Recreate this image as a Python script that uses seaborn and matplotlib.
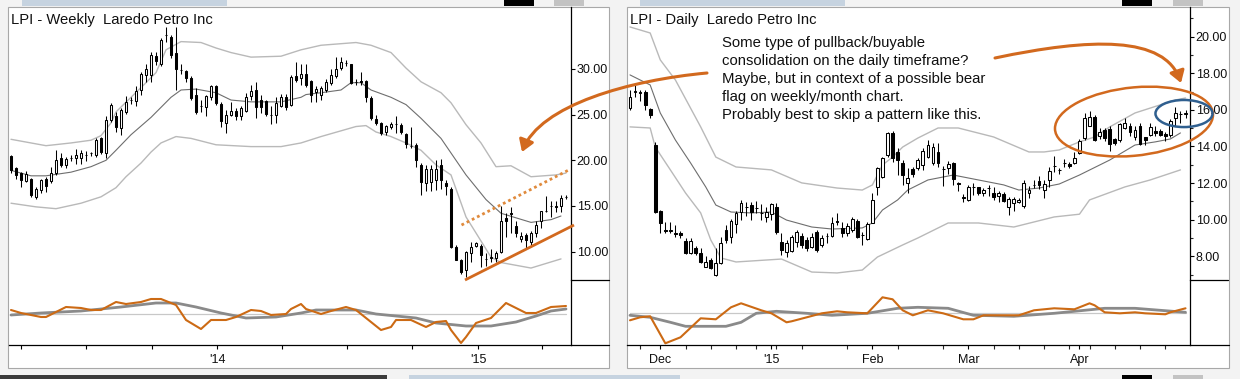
import numpy as np
import pandas as pd
import matplotlib
matplotlib.use("Agg")
import matplotlib.pyplot as plt
from matplotlib.patches import Ellipse, FancyArrowPatch, Rectangle
from matplotlib.path import Path
import matplotlib.ticker as mticker
import seaborn as sns

sns.set_theme(style="white")
plt.rcParams['font.family'] = ['Liberation Sans', 'DejaVu Sans']

# ---------------- weekly data (week starting 2013-03-18) ----------------
wk_start = "2013-03-18"
wk_open = [20.47, 19.2, 18.6, 17.7, 18.0, 16.0, 16.75, 17.9, 17.7, 18.6,
           20.3, 19.5, 20.25, 20.2, 20.2, 20.55, 20.75, 20.6, 22.4, 20.8,
           24.4, 24.8, 23.5, 25.3, 26.55, 26.5, 27.7, 29.35, 29.3, 31.4,
           30.6, 33.7, 33.5, 31.7, 29.9, 29.8, 29.0, 27.15, 26.0, 25.8,
           26.9, 28.1, 26.2, 24.05, 24.95, 25.45, 24.8, 25.4, 27.0, 27.7,
           26.6, 26.5, 24.95, 24.95, 25.95, 26.95, 26.05, 29.2, 29.05, 29.5,
           28.7, 27.5, 27.15, 27.7, 28.5, 29.25, 30.1, 30.7, 30.55, 28.62,
           28.65, 28.7, 26.8, 24.5, 24.1, 23.05, 23.6, 24.0, 23.85, 22.9,
           21.6, 21.7, 19.5, 17.5, 17.65, 17.85, 19.5, 17.5, 16.9, 10.55,
           9.1, 8.0, 9.9, 10.6, 10.6, 9.15, 9.35, 9.3, 10.0, 13.65,
           14.2, 12.8, 11.35, 11.8, 11.1, 12.0, 13.3, 14.5, 15.0, 14.9,
           14.95, 15.95]
wk_high = [20.6, 19.3, 18.75, 18.8, 18.1, 17.1, 18.0, 18.2, 19.3, 21.1,
           20.8, 20.4, 20.6, 21.2, 21.1, 21.0, 20.95, 22.4, 22.5, 24.8,
           26.3, 25.3, 25.7, 27.0, 26.9, 28.1, 29.7, 30.6, 31.9, 31.9,
           33.4, 34.6, 33.7, 34.6, 30.5, 29.9, 29.2, 27.9, 26.6, 27.15,
           28.2, 28.2, 26.4, 25.5, 26.4, 25.7, 25.9, 27.4, 28.2, 28.6,
           27.1, 26.6, 25.9, 26.9, 27.3, 27.3, 29.3, 30.8, 30.6, 30.6,
           28.8, 28.1, 28.1, 28.9, 30.0, 31.3, 31.3, 31.0, 30.6, 28.9,
           29.7, 28.8, 27.0, 25.0, 24.2, 23.9, 24.2, 24.9, 24.1, 23.0,
           23.6, 21.9, 19.7, 19.5, 19.5, 20.0, 20.1, 17.85, 17.1, 10.7,
           9.15, 10.1, 11.1, 11.1, 10.8, 9.9, 10.3, 10.1, 15.0, 14.2,
           14.9, 13.3, 12.2, 12.0, 12.3, 13.3, 14.5, 16.1, 15.5, 15.5,
           16.2, 16.2]
wk_low = [18.6, 18.0, 17.1, 17.6, 16.0, 15.8, 16.4, 16.5, 17.5, 18.4,
          19.3, 19.2, 19.9, 19.6, 19.6, 19.9, 20.5, 20.4, 20.7, 20.2,
          24.2, 23.1, 22.8, 25.1, 26.2, 25.9, 27.2, 28.6, 28.6, 30.4,
          30.3, 33.0, 31.2, 27.7, 29.5, 28.6, 26.6, 25.1, 25.3, 24.8,
          26.6, 26.1, 23.7, 23.0, 24.8, 24.4, 24.4, 25.3, 26.6, 24.6,
          25.2, 24.8, 24.0, 24.1, 25.8, 25.5, 25.9, 28.6, 28.3, 28.0,
          26.4, 26.4, 26.6, 27.5, 28.3, 29.0, 29.9, 30.3, 28.4, 28.2,
          28.2, 26.4, 24.4, 23.9, 22.8, 22.8, 23.4, 23.0, 22.9, 21.4,
          21.3, 19.3, 16.2, 16.6, 16.6, 16.75, 16.9, 16.2, 10.35, 9.05,
          7.6, 7.2, 8.9, 10.5, 8.35, 8.45, 8.9, 8.85, 9.9, 11.6,
          12.0, 11.6, 11.0, 10.4, 10.7, 11.6, 12.6, 14.3, 13.8, 14.3,
          14.3, 15.8]
wk_close = [18.94, 18.4, 17.85, 18.45, 16.2, 16.9, 17.8, 17.2, 18.6, 20.0,
            19.5, 20.1, 20.3, 20.55, 20.8, 20.6, 20.8, 22.2, 20.95, 24.4,
            26.1, 23.7, 25.5, 26.4, 26.6, 27.6, 29.5, 29.95, 31.5, 30.9,
            33.2, 33.75, 31.5, 30.0, 29.85, 29.0, 26.8, 25.3, 25.95, 27.0,
            28.1, 26.25, 24.25, 25.0, 25.45, 24.85, 25.7, 26.9, 27.6, 25.8,
            25.8, 25.1, 25.0, 26.25, 26.95, 25.8, 29.15, 28.8, 29.5, 28.25,
            27.15, 27.8, 27.9, 28.6, 29.3, 30.05, 30.8, 30.65, 28.45, 28.58,
            28.6, 26.9, 24.6, 24.05, 22.95, 23.75, 23.95, 23.95, 23.05, 21.8,
            21.55, 20.0, 17.65, 19.1, 19.1, 19.1, 17.85, 17.2, 10.55, 9.1,
            7.8, 10.0, 10.45, 10.95, 9.65, 9.2, 9.4, 9.9, 13.4, 13.4,
            14.15, 12.05, 11.7, 11.3, 12.05, 12.9, 14.45, 14.45, 14.95, 14.95,
            15.85, 16.0]

# weekly envelope (week index, price)
wk_upper_x = [0, 4, 7, 12, 16, 18, 20, 21, 24, 27, 29, 31, 34, 38, 41, 44, 48,
              54, 58, 62, 69, 72, 76, 79, 82, 86, 88, 91, 94, 97, 100, 104, 109, 111]
wk_upper_y = [22.3, 21.9, 21.6, 21.9, 22.2, 22.7, 24.1, 25.3, 26.9, 28.5, 29.6,
              32.1, 33.0, 32.9, 32.3, 31.8, 31.3, 31.4, 32.1, 32.6, 32.9, 32.6,
              31.8, 30.1, 28.6, 27.4, 26.3, 23.9, 21.9, 19.3, 19.4, 18.2, 18.4, 18.6]
wk_mid_x = [0, 4, 7, 12, 16, 19, 21, 24, 28, 32, 34, 37, 41, 44, 48, 54, 58,
            59, 62, 66, 68, 70, 72, 76, 79, 82, 86, 91, 95, 98, 101, 104, 108, 110]
wk_mid_y = [18.9, 18.3, 18.3, 18.7, 19.3, 20.0, 21.1, 22.8, 24.7, 26.9, 27.7,
            27.8, 27.4, 26.6, 26.4, 26.4, 26.9, 27.2, 27.4, 27.7, 28.5, 28.5,
            27.7, 26.9, 26.1, 24.6, 22.4, 18.4, 15.7, 14.2, 13.7, 13.2, 13.5, 13.9]
wk_lower_x = [0, 5, 9, 14, 18, 21, 23, 26, 28, 30, 33, 36, 41, 48, 54, 58, 62,
              69, 71, 73, 76, 79, 82, 85, 88, 91, 96, 98, 101, 104, 110]
wk_lower_y = [15.3, 14.9, 14.7, 15.3, 16.0, 17.0, 18.2, 19.7, 20.9, 21.9, 22.6,
              22.4, 21.7, 21.5, 21.5, 21.9, 22.6, 23.7, 23.8, 23.1, 22.6, 21.9,
              21.1, 19.5, 18.4, 13.8, 9.4, 8.8, 8.5, 8.2, 9.2]

# weekly oscillator
wk_osc_x = [0, 2, 6, 7, 11, 14, 16, 18, 21, 23, 26, 28, 30, 33, 35, 38, 40, 43,
            45, 48, 50, 52, 55, 56, 58, 59, 62, 64, 67, 69, 72, 74, 76, 77, 80,
            83, 85, 87, 88, 90, 91, 93, 96, 99, 103, 105, 108, 111]
wk_osc_y = [0.4, 0.1, -0.3, -0.3, 0.7, 0.6, 0.4, 0.4, 1.2, 1.0, 1.2, 1.5, 1.5,
            0.9, -0.6, -1.5, -0.6, -0.6, -0.3, 0.4, 0.3, -0.1, 0.0, 0.5, 1.0,
            0.5, 0.0, 0.3, 0.7, 0.4, -0.8, -1.6, -1.3, -0.6, -0.6, -1.3, -0.8,
            -0.7, -1.6, -2.9, -2.3, -0.9, -0.4, 1.1, 0.1, 0.1, 0.7, 0.8]
wk_sig_x = [0, 6, 14, 22, 29, 33, 37, 42, 47, 53, 58, 61, 69, 73, 81, 85, 91,
            96, 101, 105, 108, 111]
wk_sig_y = [-0.1, 0.1, 0.3, 0.7, 1.1, 1.1, 0.7, 0.1, -0.4, -0.3, 0.1, 0.4, 0.4,
            0.0, -0.4, -0.9, -1.2, -1.2, -0.8, -0.2, 0.3, 0.5]

# weekly trend lines drawn on the chart
wk_support_x, wk_support_y = [90.8, 112.6], [6.89, 12.91]
wk_resist_x, wk_resist_y = [90.1, 111.8], [12.91, 19.01]

# ---------------- daily data (2014-11-20 .. 2015-05-01) ----------------
d_open = [16.1, 17.0, 16.95, 17.0, 16.03, 14.08, 10.49, 9.45, 9.4, 9.25,
          9.25, 8.84, 8.2, 8.44, 8.2, 7.43, 7.8, 6.98, 7.62, 9.44,
          9.07, 9.77, 10.44, 10.7, 10.8, 10.66, 10.36, 10.17, 10.31, 10.71,
          8.8, 8.25, 8.31, 8.8, 9.11, 8.89, 8.52, 9.34, 8.6, 9.12,
          9.11, 9.9, 9.53, 9.26, 9.44, 9.95, 9.17, 8.93, 9.84, 11.8,
          12.35, 13.54, 14.72, 13.72, 13.1, 11.99, 12.75, 12.81, 12.99, 13.41,
          13.08, 13.68, 12.78, 12.81, 13.11, 12.02, 11.23, 11.08, 11.79, 11.77,
          11.44, 11.73, 11.47, 11.3, 11.4, 10.71, 10.9, 10.98, 10.75, 11.44,
          11.89, 12.1, 11.62, 12.17, 12.95, 12.73, 13.07, 13.04, 13.11, 13.66,
          14.45, 15.12, 15.63, 14.57, 14.9, 14.94, 14.39, 14.36, 14.99, 15.12,
          14.5, 15.12, 14.5, 14.63, 14.86, 14.86, 14.68, 14.63, 15.54, 15.77,
          15.8]
d_high = [17.1, 17.36, 17.1, 17.1, 16.1, 14.26, 10.55, 9.9, 9.9, 9.7,
          9.4, 9.0, 9.0, 8.55, 8.44, 8.0, 7.9, 8.45, 9.07, 9.7,
          10.05, 10.5, 11.07, 10.98, 10.98, 11.0, 10.85, 10.72, 10.93, 10.9,
          9.26, 8.89, 9.16, 9.44, 9.26, 9.07, 9.26, 9.44, 9.16, 9.26,
          10.16, 10.34, 9.89, 9.84, 10.16, 10.02, 9.35, 9.89, 11.44, 12.9,
          13.44, 14.81, 14.86, 13.9, 13.26, 12.8, 12.9, 13.35, 13.9, 14.35,
          14.17, 14.17, 12.94, 13.22, 13.17, 12.08, 11.4, 11.9, 11.99, 11.8,
          11.72, 11.9, 11.8, 11.58, 11.53, 11.26, 11.22, 11.17, 12.17, 11.84,
          12.17, 12.4, 12.17, 12.9, 13.48, 12.85, 13.3, 13.17, 13.71, 14.4,
          15.81, 15.96, 15.72, 14.99, 14.99, 15.1, 14.45, 15.3, 15.54, 15.26,
          15.1, 15.26, 14.5, 15.3, 15.12, 14.94, 14.79, 15.5, 16.17, 15.96,
          16.0]
d_low = [16.0, 16.7, 16.5, 16.0, 15.55, 10.35, 9.29, 9.3, 9.3, 9.05,
         9.0, 8.15, 8.1, 8.05, 7.65, 7.4, 7.3, 6.92, 7.58, 8.7,
         8.7, 9.3, 10.0, 10.18, 10.0, 10.35, 9.99, 9.9, 10.0, 9.2,
         8.07, 7.98, 8.22, 8.53, 8.44, 8.31, 8.44, 8.25, 8.53, 8.71,
         9.07, 9.7, 9.04, 9.11, 9.35, 8.98, 8.6, 8.89, 9.8, 11.35,
         12.26, 13.4, 13.17, 12.44, 11.9, 11.44, 12.35, 12.72, 12.72, 13.35,
         12.99, 12.9, 11.84, 12.5, 11.9, 11.57, 10.98, 11.02, 11.33, 11.35,
         11.3, 11.3, 11.1, 10.94, 10.94, 10.26, 10.5, 10.9, 10.66, 11.17,
         11.72, 11.7, 11.2, 11.8, 12.6, 12.5, 12.9, 12.85, 13.04, 13.6,
         14.36, 15.1, 14.3, 14.4, 14.3, 13.78, 14.1, 14.26, 14.94, 14.56,
         14.36, 14.08, 14.1, 14.58, 14.56, 14.56, 14.3, 14.5, 15.1, 15.3,
         15.55]
d_close = [16.7, 17.05, 16.9, 16.27, 15.72, 10.44, 9.84, 9.4, 9.44, 9.22,
           9.15, 8.2, 8.84, 8.16, 7.7, 7.67, 7.34, 7.65, 8.71, 8.89,
           9.95, 10.38, 10.93, 10.72, 10.44, 10.64, 10.34, 10.44, 10.86, 9.34,
           8.34, 8.71, 9.04, 9.31, 8.62, 8.44, 9.07, 8.34, 9.0, 9.1,
           9.8, 9.89, 9.26, 9.66, 10.02, 9.04, 9.15, 9.77, 11.08, 12.8,
           13.35, 14.72, 13.35, 13.26, 12.44, 12.26, 12.5, 13.26, 13.77, 14.08,
           13.96, 13.08, 12.76, 13.04, 12.21, 11.93, 11.21, 11.8, 11.81, 11.44,
           11.62, 11.71, 11.22, 11.47, 11.04, 11.11, 11.11, 11.1, 11.99, 11.62,
           11.91, 11.9, 11.93, 12.68, 12.93, 12.72, 13.08, 12.93, 13.35, 14.32,
           15.54, 15.6, 14.36, 14.81, 14.45, 14.14, 14.2, 15.23, 15.3, 14.81,
           14.9, 14.14, 14.36, 15.05, 14.72, 14.63, 14.57, 15.41, 15.81, 15.79,
           15.82]
d_holidays = ["2014-11-27", "2014-12-25", "2015-01-01", "2015-01-19",
              "2015-02-16", "2015-04-03"]

d_upper_x = [0, 4, 6, 9, 14, 17, 21, 28, 34, 41, 46, 48, 50, 52, 54, 57, 61,
             65, 72, 79, 82, 85, 89, 92, 95, 100, 108, 110]
d_upper_y = [20.53, 20.2, 18.73, 17.63, 15.07, 13.42, 12.88, 12.72, 12.01,
             11.73, 11.62, 11.9, 12.99, 13.42, 13.97, 14.46, 15.01, 15.01,
             14.52, 13.7, 13.7, 13.81, 14.25, 14.52, 15.07, 15.83, 16.54, 16.65]
d_mid_x = [0, 4, 6, 9, 12, 15, 17, 20, 24, 28, 31, 36, 40, 46, 48, 50, 53, 55,
           59, 64, 69, 74, 77, 81, 85, 89, 95, 100, 104, 107, 109]
d_mid_y = [17.91, 17.36, 15.83, 14.35, 13.1, 11.79, 10.8, 10.42, 10.37, 10.42,
           9.98, 9.6, 9.49, 9.55, 9.82, 10.53, 11.08, 11.62, 12.17, 12.44,
           12.17, 11.9, 11.62, 11.73, 11.95, 12.44, 13.26, 14.08, 14.25, 14.41, 14.74]
d_lower_x = [0, 4, 5, 8, 11, 14, 16, 18, 21, 30, 36, 41, 46, 49, 54, 57, 63,
             69, 76, 84, 89, 91, 98, 103, 109]
d_lower_y = [15.07, 15.01, 13.97, 12.72, 11.46, 10.37, 8.89, 7.91, 7.69, 7.85,
             7.14, 7.09, 7.25, 7.96, 8.62, 9.0, 9.82, 9.82, 9.6, 10.15, 10.3,
             11.08, 11.79, 12.17, 12.72]

d_osc_x = [0, 2, 4, 7, 10, 14, 17, 20, 22, 26, 28, 31, 32, 35, 38, 41, 43, 47,
           50, 52, 54, 56, 59, 62, 66, 68, 70, 77, 80, 84, 88, 91, 92, 94, 97,
           100, 102, 106, 107, 110]
d_osc_y = [-0.7, -0.4, -0.3, -3.0, -2.4, -0.5, -0.6, 0.6, 1.0, 0.3, 0.0, -0.9,
           -0.8, -0.4, 0.0, 0.2, 0.1, 0.0, 1.6, 1.4, 0.3, -0.2, 0.3, 0.0, -0.6,
           -0.6, -0.2, -0.2, 0.3, 0.5, 0.4, 1.0, 0.8, 0.1, 0.0, 0.1, 0.0, -0.1,
           0.1, 0.5]
d_sig_x = [0, 4, 8, 11, 19, 22, 25, 29, 35, 40, 47, 53, 57, 63, 68, 76, 84, 90,
           94, 100, 105, 110]
d_sig_y = [-0.2, -0.4, -0.9, -1.3, -1.3, -0.9, 0.0, 0.2, 0.0, -0.2, 0.0, 0.5,
           0.6, 0.5, -0.2, -0.3, 0.0, 0.3, 0.5, 0.5, 0.3, 0.1]

note_lines = ["Some type of pullback/buyable",
              "consolidation on the daily timeframe?",
              "Maybe, but in context of a possible bear",
              "flag on weekly/month chart.",
              "Probably best to skip a pattern like this."]

# ---------------- styling ----------------
W, H = 1240, 379
ORANGE = "#d2691e"
ORANGE_L = "#e08a3c"
OSC_OR = "#cc6a14"
BLUE = "#2f5f8f"
UPPER_C = "#b9b9b9"
MID_C = "#6e6e6e"
TXT = "#101010"

fig = plt.figure(figsize=(W / 100, H / 100), dpi=100)
fig.patch.set_facecolor("white")


def fx(px):
    return px / W


def fy(py):
    return 1 - py / H


def add_rect(x0, y0, x1, y1, **kw):
    fig.add_artist(Rectangle((fx(x0), fy(y1)), fx(x1) - fx(x0), fy(y0) - fy(y1),
                             transform=fig.transFigure, **kw))


# window chrome
add_rect(0, 0, W, 379, facecolor="#f3f3f3", edgecolor="none", zorder=-5)
for (a, b) in [(8, 609), (627, 1229)]:
    add_rect(a, 6.5, b, 368, facecolor="white", edgecolor="#a8a8a8", lw=0.8, zorder=-4)
for (a, b, c) in [(22, 227, "#c6d3e0"), (504, 534, "#000000"), (554, 584, "#c3c3c3"),
                  (640, 845, "#c6d3e0"), (1122, 1152, "#000000"), (1173, 1203, "#c3c3c3")]:
    add_rect(a, 0, b, 6, facecolor=c, edgecolor="none", zorder=-3)
for (a, b, c) in [(0, 387, "#3c3c3c"), (409, 620, "#c6d3e0"), (620, 680, "#c6d3e0"),
                  (1122, 1152, "#000000"), (1173, 1203, "#c3c3c3")]:
    add_rect(a, 375, b, 379, facecolor=c, edgecolor="none", zorder=-3)


def draw_candles(ax, o, h, l, c, width):
    o, h, l, c = map(np.asarray, (o, h, l, c))
    x = np.arange(len(o))
    up = c >= o
    ax.vlines(x, l, h, color="black", lw=0.75, zorder=3)
    bottom = np.minimum(o, c)
    height = np.maximum(np.abs(c - o), 0.02)
    ax.bar(x, height, width=width, bottom=bottom,
           color=np.where(up, "white", "black"), edgecolor="black",
           linewidth=0.75, zorder=4)


def style_price_ax(ax):
    for s in ["top", "left", "bottom"]:
        ax.spines[s].set_visible(False)
    ax.spines["right"].set_color("black")
    ax.spines["right"].set_linewidth(0.9)
    ax.set_facecolor("none")
    ax.yaxis.tick_right()
    ax.tick_params(axis="y", which="major", direction="out", length=3.2, width=0.8,
                   pad=1.2, labelsize=9, colors="black", labelcolor=TXT, right=True)
    ax.tick_params(axis="y", which="minor", direction="out", length=2, width=0.8,
                   right=True)
    ax.tick_params(axis="x", bottom=False, labelbottom=False)
    ax.yaxis.set_major_formatter(mticker.FormatStrFormatter("%.2f"))
    ax.set_xlabel("")
    ax.set_ylabel("")
    ax.grid(False)
    ax.plot([1, 1.0 + 38.5 / ax.bbox.width], [0, 0], transform=ax.transAxes,
            color="black", lw=0.9, clip_on=False)


def style_osc_ax(ax, right_px):
    for s in ["top", "left"]:
        ax.spines[s].set_visible(False)
    for s in ["right", "bottom"]:
        ax.spines[s].set_color("black")
        ax.spines[s].set_linewidth(0.9)
    ax.set_facecolor("none")
    ax.set_yticks([])
    ax.tick_params(axis="x", which="major", direction="out", length=3, width=0.8,
                   pad=3.5, labelsize=9, colors="black", labelcolor=TXT, bottom=True)
    ax.tick_params(axis="x", which="minor", direction="out", length=3, width=0.8,
                   bottom=True)
    ax.set_xlabel("")
    ax.set_ylabel("")
    ax.grid(False)
    ax.plot([1, 1.0 + right_px / ax.bbox.width], [0, 0], transform=ax.transAxes,
            color="black", lw=0.9, clip_on=False)


# ---------------- weekly panel ----------------
axw = fig.add_axes([fx(8.7), fy(280), fx(570.6) - fx(8.7), fy(7) - fy(280)])
axwo = fig.add_axes([fx(8.7), fy(345), fx(570.6) - fx(8.7), fy(280) - fy(345)])

draw_candles(axw, wk_open, wk_high, wk_low, wk_close, 0.56)
sns.lineplot(x=wk_upper_x, y=wk_upper_y, ax=axw, color=UPPER_C, lw=1.0, sort=False, estimator=None)
sns.lineplot(x=wk_lower_x, y=wk_lower_y, ax=axw, color=UPPER_C, lw=1.0, sort=False, estimator=None)
sns.lineplot(x=wk_mid_x, y=wk_mid_y, ax=axw, color=MID_C, lw=0.8, sort=False, estimator=None)
axw.plot(wk_support_x, wk_support_y, color=ORANGE, lw=2.0, clip_on=False, zorder=6,
         solid_capstyle="butt")
axw.plot(wk_resist_x, wk_resist_y, color=ORANGE_L, lw=2.0, ls=(0, (1, 1.1)),
         clip_on=False, zorder=6)
axw.set_xlim(-0.46, 111.92)
axw.set_ylim(6.89, 36.79)
axw.set_yticks([10, 15, 20, 25, 30])
style_price_ax(axw)
axw.text(fx(11), fy(24), "LPI - Weekly  Laredo Petro Inc", transform=fig.transFigure,
         fontsize=10.6, color=TXT, ha="left", va="baseline")

sns.lineplot(x=[0, len(wk_open) - 1], y=[0, 0], ax=axwo, color="#c8c8c8", lw=0.9, estimator=None)
sns.lineplot(x=wk_sig_x, y=wk_sig_y, ax=axwo, color="#8a8a8a", lw=2.0, sort=False, estimator=None)
sns.lineplot(x=wk_osc_x, y=wk_osc_y, ax=axwo, color=OSC_OR, lw=1.5, sort=False, estimator=None)
axwo.set_xlim(-0.46, 111.92)
axwo.set_ylim(-3.1, 3.4)
wk_dates = pd.date_range(wk_start, periods=len(wk_open), freq="7D")
q_starts = pd.date_range("2013-04-01", "2015-04-01", freq="QS")
q_pos = [(q - wk_dates[0]).days / 7.0 for q in q_starts]
q_lab = ["'" + q.strftime("%y") if q.month == 1 else "" for q in q_starts]
style_osc_ax(axwo, 38.5)
axwo.set_xticks(q_pos)
axwo.set_xticklabels(q_lab)

# ---------------- daily panel ----------------
d_dates = pd.bdate_range("2014-11-20", "2015-05-01").drop(pd.to_datetime(d_holidays))

axd = fig.add_axes([fx(627.3), fy(280), fx(1189.5) - fx(627.3), fy(7) - fy(280)])
axdo = fig.add_axes([fx(627.3), fy(345), fx(1189.5) - fx(627.3), fy(280) - fy(345)])

draw_candles(axd, d_open, d_high, d_low, d_close, 0.56)
sns.lineplot(x=d_upper_x, y=d_upper_y, ax=axd, color=UPPER_C, lw=1.0, sort=False, estimator=None)
sns.lineplot(x=d_lower_x, y=d_lower_y, ax=axd, color=UPPER_C, lw=1.0, sort=False, estimator=None)
sns.lineplot(x=d_mid_x, y=d_mid_y, ax=axd, color=MID_C, lw=0.8, sort=False, estimator=None)
axd.set_xlim(-0.53, 110.79)
axd.set_ylim(6.705, 21.62)
axd.set_yticks([8, 10, 12, 14, 16, 18, 20])
axd.yaxis.set_minor_locator(mticker.MultipleLocator(1))
style_price_ax(axd)
axd.text(fx(630), fy(24), "LPI - Daily  Laredo Petro Inc", transform=fig.transFigure,
         fontsize=10.6, color=TXT, ha="left", va="baseline")

axd.add_patch(Ellipse((99.8, 15.36), 31.3, 3.74, angle=1.4, fill=False,
                      edgecolor=ORANGE, lw=1.8, clip_on=False, zorder=7))
axd.add_patch(Ellipse((109.7, 15.80), 11.3, 1.48, angle=0, fill=False,
                      edgecolor=BLUE, lw=1.8, clip_on=False, zorder=7))

note_base = [47.3, 65.2, 83.1, 101.0, 118.9]
for line, yb in zip(note_lines, note_base):
    fig.text(fx(722), fy(yb), line, fontsize=10.7, color=TXT, ha="left", va="baseline")

sns.lineplot(x=[0, len(d_open) - 1], y=[0, 0], ax=axdo, color="#c8c8c8", lw=0.9, estimator=None)
sns.lineplot(x=d_sig_x, y=d_sig_y, ax=axdo, color="#8a8a8a", lw=2.0, sort=False, estimator=None)
sns.lineplot(x=d_osc_x, y=d_osc_y, ax=axdo, color=OSC_OR, lw=1.5, sort=False, estimator=None)
axdo.set_xlim(-0.53, 110.79)
axdo.set_ylim(-3.17, 3.33)
style_osc_ax(axdo, 39.5)
months = d_dates.to_period("M")
m_pos, m_lab = [], []
for m in ["2014-12", "2015-01", "2015-02", "2015-03", "2015-04"]:
    i = int(np.argmax(months == pd.Period(m)))
    m_pos.append(i)
    m_lab.append("'15" if m == "2015-01" else d_dates[i].strftime("%b"))
axdo.set_xticks(m_pos)
axdo.set_xticklabels(m_lab)
mondays = [i for i, d in enumerate(d_dates) if d.weekday() == 0 and i not in m_pos]
axdo.set_xticks(mondays, minor=True)

# ---------------- curved arrows ----------------
def px_path(pts):
    verts = [(fx(x), fy(y)) for x, y in pts]
    return Path(verts, [Path.MOVETO, Path.CURVE4, Path.CURVE4, Path.CURVE4])


arrow1 = FancyArrowPatch(path=px_path([(707, 73), (630, 80), (540, 105), (522, 152)]),
                         transform=fig.transFigure, arrowstyle="-|>,head_length=7,head_width=4.5",
                         color=ORANGE, lw=2.2, zorder=10)
arrow2 = FancyArrowPatch(path=px_path([(995, 58), (1090, 38), (1165, 35), (1181, 83)]),
                         transform=fig.transFigure, arrowstyle="-|>,head_length=7,head_width=4.5",
                         color=ORANGE, lw=2.2, zorder=10)
fig.add_artist(arrow1)
fig.add_artist(arrow2)

fig.savefig("out.png", dpi=100)
